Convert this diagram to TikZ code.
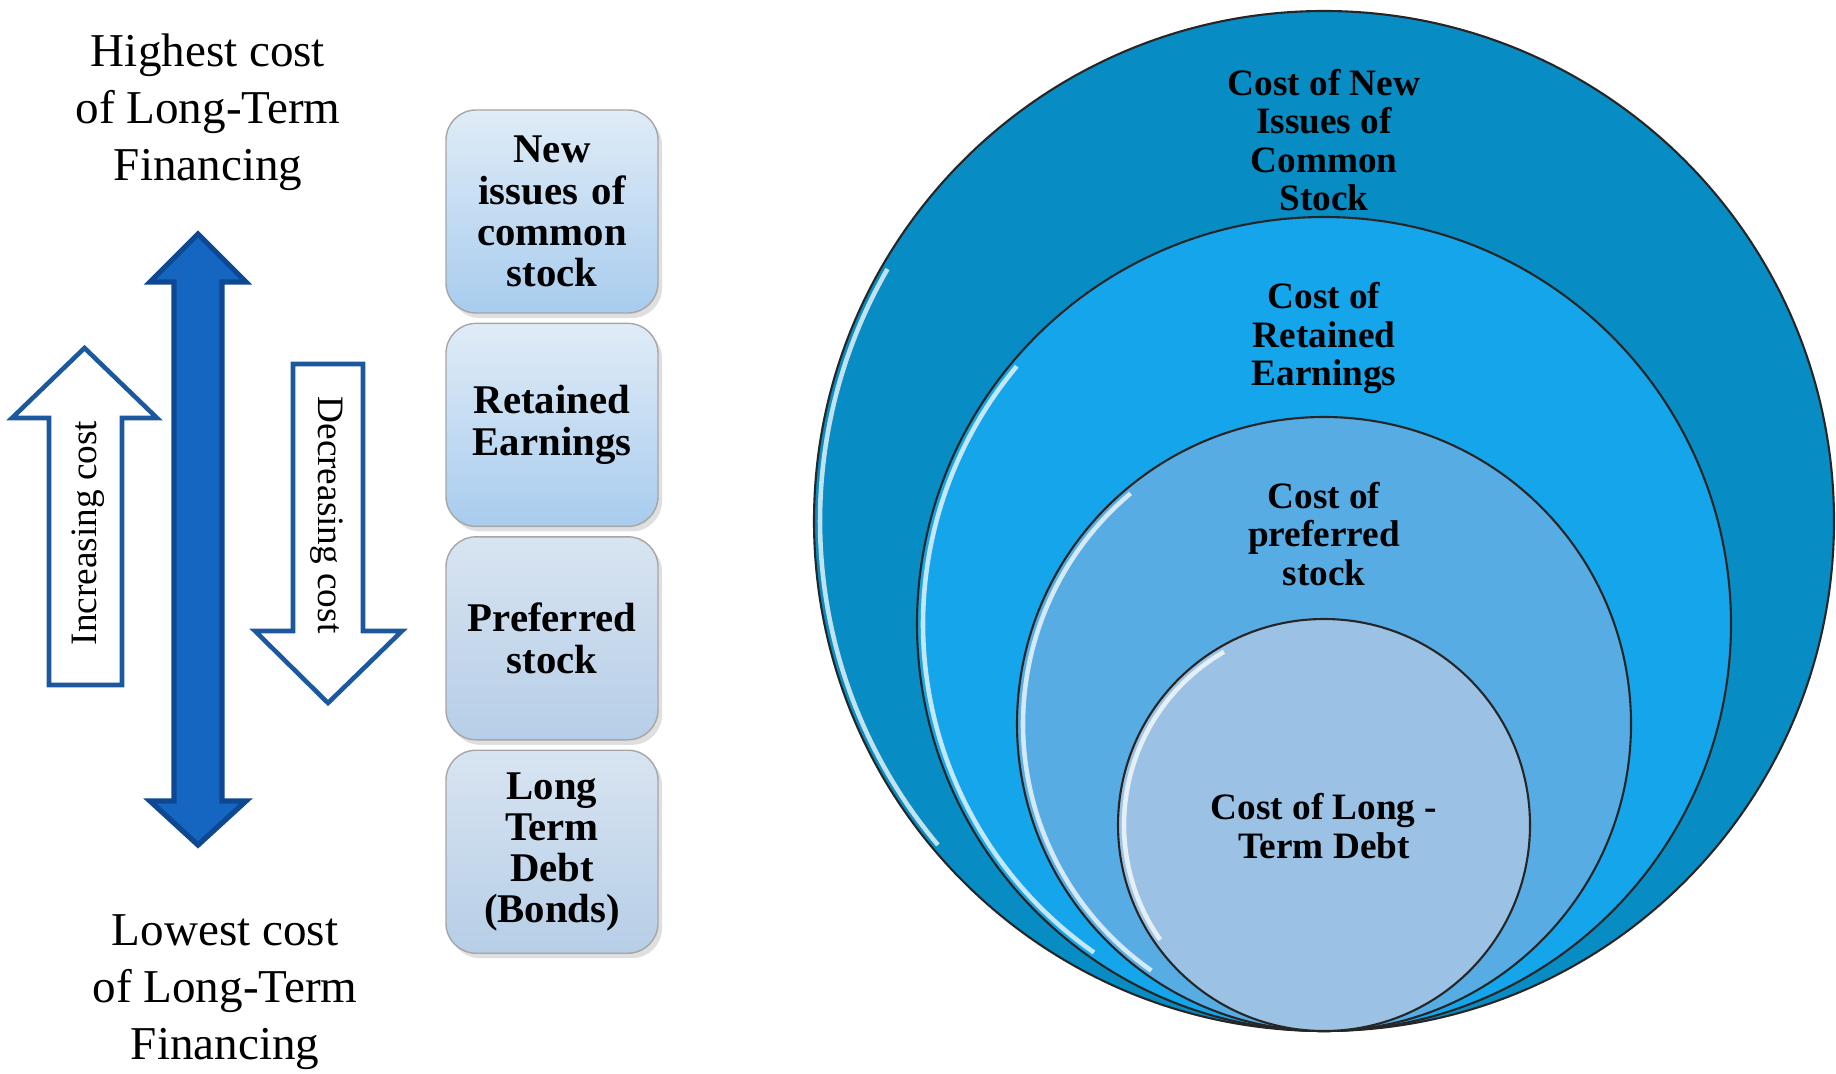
\documentclass[tikz,border=0pt]{standalone}
\usepackage{fontspec}
\setmainfont{Liberation Serif}
\usetikzlibrary{positioning}
\usetikzlibrary{shadows}

\definecolor{deepblue}{RGB}{21,102,192}
\definecolor{deepedge}{RGB}{14,72,146}
\definecolor{lineblue}{RGB}{28,88,158}
\definecolor{ringA}{RGB}{8,140,196}
\definecolor{ringB}{RGB}{20,165,235}
\definecolor{ringC}{RGB}{88,172,228}
\definecolor{ringD}{RGB}{155,194,228}
\definecolor{boxtop}{RGB}{224,236,247}
\definecolor{boxbot}{RGB}{168,204,238}
\definecolor{boxtopgrey}{RGB}{216,228,241}
\definecolor{boxbotgrey}{RGB}{182,206,231}

\tikzset {
  % source of long-term funds
  fundbox/.style = {
    draw = black!35,
    rectangle,
    rounded corners = 0.3cm,
    minimum width = 2.12cm,
    minimum height = 2.03cm,
    text width = 1.84cm,
    align = center,
    top color = boxtop,
    bottom color = boxbot,
    drop shadow = {opacity = 0.25, shadow xshift = 0.04cm, shadow yshift = -0.05cm},
    font = \fontsize{11.6}{11.7}\selectfont\bfseries
  },
  greybox/.style = {
    fundbox,
    top color = boxtopgrey,
    bottom color = boxbotgrey
  },
  % nested cost circles
  costring/.style = {
    circle,
    draw = black!85,
    line width = 0.6pt,
    inner sep = 0
  },
  glint/.style = {
    draw = white,
    line width = 1.3pt,
    opacity = 0.75
  },
  ringtext/.style = {
    align = center,
    font = \fontsize{10.6}{10.9}\selectfont\bfseries
  },
  % block arrows
  bigarrow/.style = {
    fill = deepblue,
    draw = deepedge,
    line width = 1.5pt,
    line join = miter
  },
  hollowarrow/.style = {
    fill = white,
    draw = lineblue,
    line width = 1.3pt
  },
  endlabel/.style = {
    align = center,
    font = \fontsize{13.4}{16.2}\selectfont
  },
  sidelabel/.style = {
    font = \fontsize{10.6}{12}\selectfont
  }
}

\begin{document}
\begin{tikzpicture}
    \useasboundingbox (0,0) rectangle (18.36,-10.74);

    % left column
    \node[endlabel] (high) at (2.08,-1.12) {Highest cost\\of Long-Term\\Financing};
    \node[endlabel] (low) at (2.25,-9.92) {Lowest cost\\of Long-Term\\Financing};

    \draw[bigarrow] (1.98,-2.34) -- (2.46,-2.82) -- (2.22,-2.82)
      -- (2.22,-8.01) -- (2.46,-8.01) -- (1.98,-8.45)
      -- (1.50,-8.01) -- (1.74,-8.01) -- (1.74,-2.82)
      -- (1.50,-2.82) -- cycle;

    \draw[hollowarrow] (0.845,-3.48) -- (1.57,-4.18) -- (1.22,-4.18)
      -- (1.22,-6.85) -- (0.49,-6.85) -- (0.49,-4.18)
      -- (0.12,-4.18) -- cycle;
    \node[sidelabel, rotate=90] (up) at (0.88,-5.33) {Increasing cost};

    \draw[hollowarrow] (2.93,-3.64) -- (3.63,-3.64) -- (3.63,-6.31)
      -- (4.02,-6.31) -- (3.28,-7.03) -- (2.55,-6.31)
      -- (2.93,-6.31) -- cycle;
    \node[sidelabel, rotate=-90] (down) at (3.27,-5.15) {Decreasing cost};

    % boxes
    \node[fundbox] (newissue) at (5.52,-2.115) {New\\issues of\\common\\stock};
    \node[fundbox] (retained) [below=0.09cm of newissue] {Retained\\Earnings};
    \node[greybox] (preferred) [below=0.09cm of retained] {Preferred\\stock};
    \node[greybox] (debt) [below=0.09cm of preferred] {Long\\Term\\Debt\\(Bonds)};

    % circles
    \node[costring, fill=ringA, minimum size=10.2cm] (common) at (13.24,-5.21) {};
    \node[costring, fill=ringB, minimum size=8.14cm, anchor=south] (earn) at (common.south) {};
    \node[costring, fill=ringC, minimum size=6.14cm, anchor=south] (pref) at (earn.south) {};
    \node[costring, fill=ringD, minimum size=4.12cm, anchor=south] (bond) at (pref.south) {};

    \draw[glint] ([shift={(150:5.04)}]common.center) arc[start angle=150, end angle=220, radius=5.04];
    \draw[glint] ([shift={(140:4.01)}]earn.center) arc[start angle=140, end angle=235, radius=4.01];
    \draw[glint] ([shift={(130:3.01)}]pref.center) arc[start angle=130, end angle=235, radius=3.01];
    \draw[glint] ([shift={(120:2.00)}]bond.center) arc[start angle=120, end angle=215, radius=2.00];

    \node[ringtext] (t-common) at (13.24,-1.40) {Cost of New\\Issues of\\Common\\Stock};
    \node[ringtext] (t-earn) at (13.24,-3.38) {Cost of\\Retained\\Earnings};
    \node[ringtext] (t-pref) at (13.24,-5.34) {Cost of\\preferred\\stock};
    \node[ringtext] (t-bond) at (13.24,-8.26) {Cost of Long -\\Term Debt};
\end{tikzpicture}
\end{document}
